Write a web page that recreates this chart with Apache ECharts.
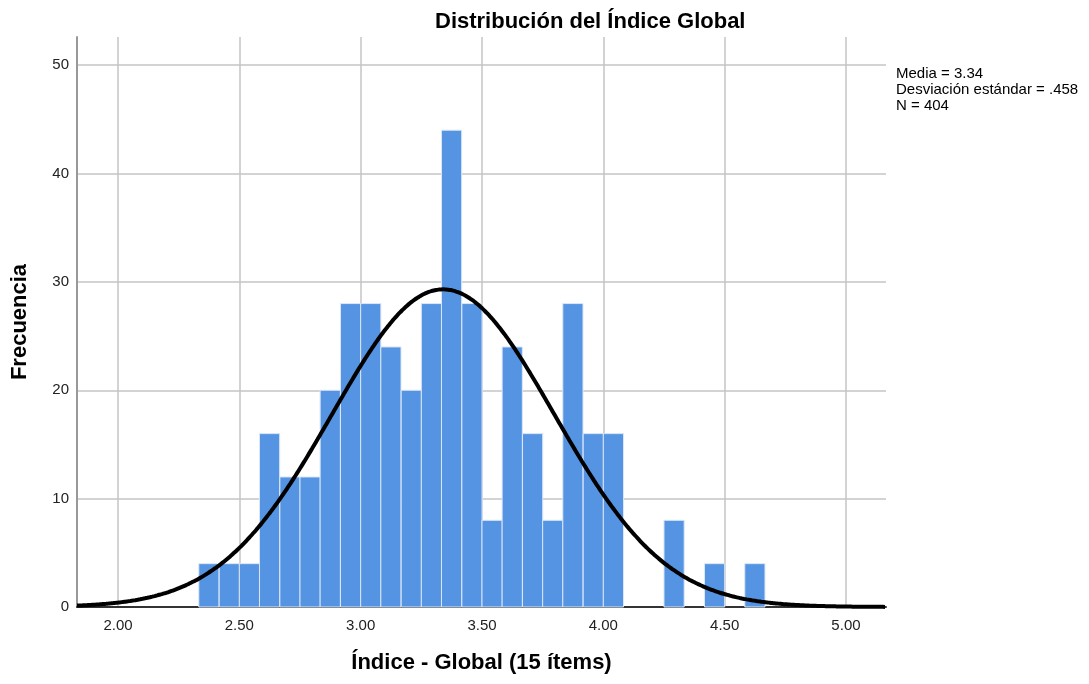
<!DOCTYPE html>
<html>
<head>
<meta charset="utf-8">
<script src="https://cdn.jsdelivr.net/npm/echarts@6/dist/echarts.min.js"></script>
<style>
html,body{margin:0;padding:0;background:#fff;}
#chart{width:1089px;height:684px;}
</style>
</head>
<body>
<div id="chart"></div>
<script>
// ---- Data ----
const binStarts = [2.333,2.417,2.500,2.583,2.667,2.750,2.833,2.917,3.000,3.083,3.167,3.250,3.333,3.417,3.500,3.583,3.667,3.750,3.833,3.917,4.000,4.083,4.167,4.250,4.333,4.417,4.500,4.583];
const counts    = [4,4,4,16,12,12,20,28,28,24,20,28,44,28,8,24,16,8,28,16,16,0,0,8,0,4,0,4];
const binWidth = 0.0833;
const xTicks = [2.00,2.50,3.00,3.50,4.00,4.50,5.00];
const yTicks = [0,10,20,30,40,50];
const media = 3.34, sd = 0.458, nTotal = 404;
const statsLines = ['Media = 3.34','Desviación estándar = .458','N = 404'];
const xMin = 1.831, xMax = 5.165, yMax = 52.6;

// normal curve fitted with the chart's own Media / SD / N
const curve = [];
for (let x = xMin; x <= xMax + 1e-9; x += 0.01) {
  const z = (x - media) / sd;
  curve.push([x, nTotal * binWidth * Math.exp(-0.5*z*z) / (sd*Math.sqrt(2*Math.PI))]);
}
const bars = binStarts.map((s,i)=>[s, counts[i]]).filter(d=>d[1]>0);

const chart = echarts.init(document.getElementById('chart'), null, {renderer:'canvas'});
chart.setOption({
  animation:false,
  backgroundColor:'#fff',
  title:{
    text:'Distribución del Índice Global',
    left:430, top:6,
    textStyle:{fontFamily:'Liberation Sans, Arial', fontWeight:'bold', fontSize:22, color:'#000'}
  },
  grid:{left:77, right:203, top:37, bottom:77, containLabel:false, outerBoundsMode:'none'},
  xAxis:{
    type:'value', min:xMin, max:xMax,
    name:'Índice - Global (15 ítems)', nameLocation:'middle', nameGap:45,
    nameTextStyle:{fontFamily:'Liberation Sans, Arial', fontWeight:'bold', fontSize:22, color:'#000'},
    axisLine:{show:true, onZero:false, lineStyle:{color:'#333', width:2}},
    axisTick:{show:false, customValues:xTicks},
    axisLabel:{customValues:xTicks, formatter:v=>v.toFixed(2), fontFamily:'Liberation Sans, Arial', fontSize:15, color:'#222', margin:11},
    splitLine:{show:true, lineStyle:{color:'#c4c4c4', width:1.5}}
  },
  yAxis:{
    type:'value', min:0, max:yMax,
    name:'Frecuencia', nameLocation:'middle', nameGap:46, nameRotate:90,
    nameTextStyle:{fontFamily:'Liberation Sans, Arial', fontWeight:'bold', fontSize:22, color:'#000'},
    axisLine:{show:true, lineStyle:{color:'#999', width:2}},
    axisTick:{show:false, customValues:yTicks},
    axisLabel:{customValues:yTicks, fontFamily:'Liberation Sans, Arial', fontSize:15, color:'#222', margin:8},
    splitLine:{show:true, lineStyle:{color:'#c4c4c4', width:1.5}}
  },
  graphic:[{
    type:'text', left:896, top:66,
    style:{text:statsLines.join('\n'), fontFamily:'Liberation Sans, Arial', fontSize:15, lineHeight:16, fill:'#000'}
  }],
  series:[
    {
      type:'custom',
      data:bars,
      renderItem:function(params, api){
        const x0 = api.value(0), c = api.value(1);
        const p1 = api.coord([x0, c]);
        const p2 = api.coord([x0 + binWidth, 0]);
        return {
          type:'rect',
          shape:{x:p1[0], y:p1[1], width:p2[0]-p1[0], height:p2[1]-p1[1]},
          style:{fill:'#5594e2', stroke:'#dbe7f7', lineWidth:1}
        };
      },
      z:2
    },
    {
      type:'line', data:curve, showSymbol:false, smooth:true,
      lineStyle:{color:'#000', width:4}, z:3
    }
  ]
});
</script>
</body>
</html>
